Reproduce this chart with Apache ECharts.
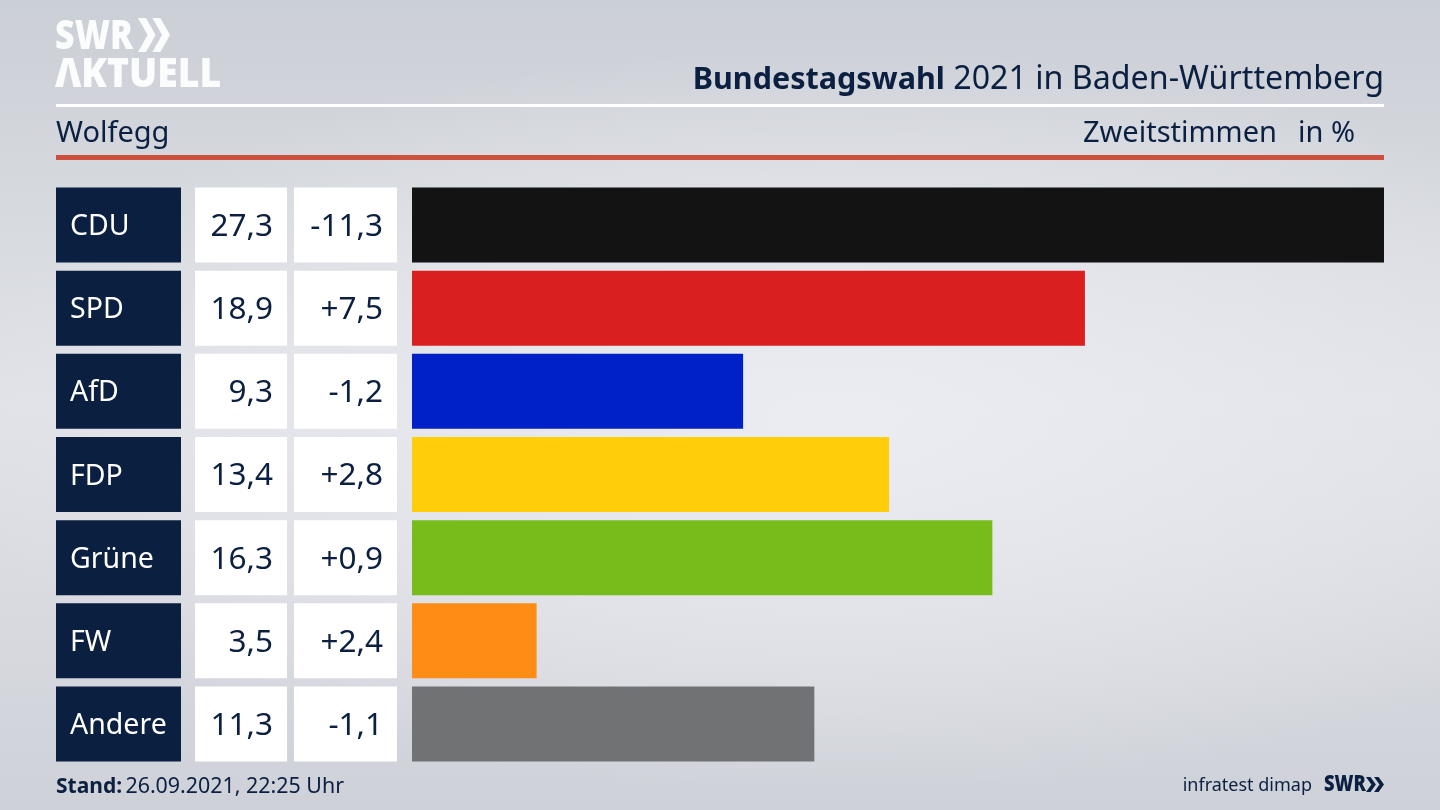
<!DOCTYPE html>
<html>
<head>
<meta charset="utf-8">
<title>Bundestagswahl 2021 in Baden-Württemberg</title>
<script src="https://cdn.jsdelivr.net/npm/echarts@6/dist/echarts.min.js"></script>
<style>
html,body{margin:0;padding:0;width:1440px;height:810px;overflow:hidden;}
body{background:
	radial-gradient(ellipse 62% 46% at 58% 52%,rgba(236,237,242,0.95) 0%,rgba(232,233,238,0.6) 55%,rgba(226,228,233,0) 100%),
	linear-gradient(180deg,#cbcfd6 0%,#d6d9de 25%,#e0e2e7 50%,#d8dae0 75%,#ced1d8 100%);}
#chart{width:1440px;height:810px;}
</style>
</head>
<body>
<div id="chart"></div>
<script>
var parties = ['CDU','SPD','AfD','FDP','Grüne','FW','Andere'];
var shares = [27.3,18.9,9.3,13.4,16.3,3.5,11.3];
var changes = [-11.3,7.5,-1.2,2.8,0.9,2.4,-1.1];
var barColors = ['#131314','#da1f1f','#0021c8','#ffcd0a','#78bc1b','#ff8c14','#717274'];

var navy = '#0b1f41';
var font = '"Noto Sans"';

function comma(v){
	return v.toFixed(1).replace('.',',');
}
function signed(v){
	return (v > 0 ? '+' : '') + comma(v);
}

//the three table columns are y axes, their labels are the cells
function cellAxis(data,margin,width,pad,align,bg,color,size){
	return {
		type:'category',
		position:'left',
		inverse:true,
		data:data,
		axisLine:{show:false},
		axisTick:{show:false},
		axisLabel:{
			interval:0,
			margin:margin,
			formatter:function(v){ return '{c|'+v+'}'; },
			rich:{
				c:{
					width:width,
					height:71,
					lineHeight:71,
					align:align,
					padding:pad,
					backgroundColor:bg,
					color:color,
					fontFamily:font,
					fontSize:size
				}
			}
		}
	};
}

//SWR double arrow
function chevrons(x,y,w,h,fill){
	var a = w*0.55, t = w*0.25;
	function one(dx){
		return {
			type:'polygon',
			silent:true,
			shape:{points:[[x+dx,y],[x+dx+t,y],[x+dx+a,y+h/2],[x+dx+t,y+h],[x+dx,y+h],[x+dx+a-t,y+h/2]]},
			style:{fill:fill}
		};
	}
	return [one(0),one(w-a)];
}

function label(x,y,text,size,weight,align,fill,scaleX){
	return {
		type:'text',
		silent:true,
		x:x,
		y:y,
		scaleX:scaleX || 1,
		style:{
			text:text,
			fontFamily:font,
			fontSize:size,
			fontWeight:weight,
			fill:fill,
			align:align,
			verticalAlign:'middle'
		}
	};
}

function line(y,h,fill){
	return {type:'rect',silent:true,shape:{x:56,y:y,width:1328,height:h},style:{fill:fill}};
}

var logoWhite = 'rgba(255,255,255,0.92)';
var graphics = [
	label(55,37,'SWR',41,900,'left',logoWhite,0.83),
	label(55,75,'ΛKTUELL',41,900,'left',logoWhite,0.91),
	line(104,3,'#ffffff'),
	line(155,5,'#cd4f3e'),
	{
		type:'text',silent:true,x:1384,y:80,
		style:{
			text:'{b|Bundestagswahl}{r| 2021 in Baden-Württemberg}',
			align:'right',verticalAlign:'middle',
			rich:{
				b:{fontFamily:font,fontSize:30.5,fontWeight:'bold',fill:navy},
				r:{fontFamily:font,fontSize:32.2,fill:navy}
			}
		}
	},
	label(56,134,'Wolfegg',29,'normal','left',navy),
	label(1277,134,'Zweitstimmen',29,'normal','right',navy),
	label(1355,134,'in %',29,'normal','right',navy),
	{
		type:'text',silent:true,x:56,y:787,
		style:{
			text:'{b|Stand:} {r|26.09.2021, 22:25 Uhr}',
			align:'left',verticalAlign:'middle',
			rich:{
				b:{fontFamily:font,fontSize:21,fontWeight:'bold',fill:navy},
				r:{fontFamily:font,fontSize:21.4,fill:navy}
			}
		}
	},
	label(1312,786,'infratest dimap',18,'normal','right',navy),
	label(1324,785,'SWR',22,900,'left',navy,0.83)
];
graphics = graphics.concat(chevrons(138,18,32,34,logoWhite));
graphics = graphics.concat(chevrons(1366,777,18,15,navy));

var chart = echarts.init(document.getElementById('chart'));
chart.setOption({
	animation:false,
	backgroundColor:'transparent',
	grid:{left:412,top:183.5,width:972,height:582,outerBoundsMode:'none'},
	graphic:graphics,
	xAxis:{type:'value',min:0,max:27.3,show:false},
	yAxis:[
		cellAxis(parties,231,111,[4,0,0,14],'left',navy,'#ffffff',28.5),
		cellAxis(shares.map(comma),125,77,[4,14,0,1],'right','#ffffff',navy,31.5),
		cellAxis(changes.map(signed),15,89,[4,14,0,0],'right','#ffffff',navy,31.5)
	],
	series:[{
		type:'bar',
		yAxisIndex:0,
		barWidth:75,
		silent:true,
		data:shares.map(function(v,i){
			return {value:v,itemStyle:{color:barColors[i]}};
		})
	}]
});
</script>
</body>
</html>
